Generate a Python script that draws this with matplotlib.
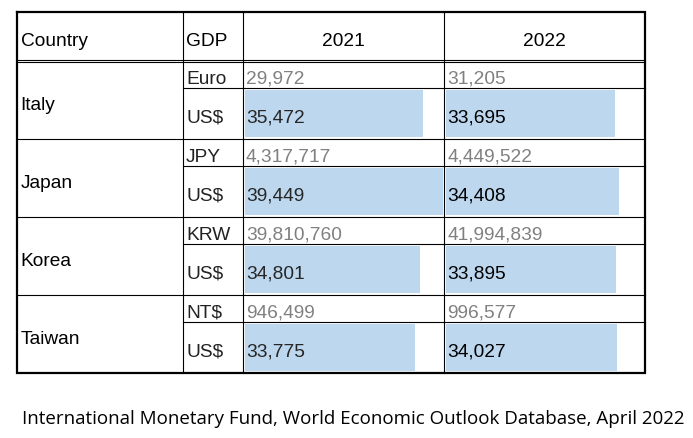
import matplotlib
matplotlib.use("Agg")
import matplotlib.pyplot as plt

# data (GDP per capita, IMF WEO April 2022)
countries = ["Italy", "Japan", "Korea", "Taiwan"]
local_units = ["Euro", "JPY", "KRW", "NT$"]
years = ["2021", "2022"]
local_2021 = [29972, 4317717, 39810760, 946499]
local_2022 = [31205, 4449522, 41994839, 996577]
usd_2021 = [35472, 39449, 34801, 33775]
usd_2022 = [33695, 34408, 33895, 34027]
source = "International Monetary Fund, World Economic Outlook Database, April 2022"

plt.rcParams["font.family"] = ["Liberation Sans", "DejaVu Sans"]

fig = plt.figure(figsize=(6.93, 4.39), dpi=100)
ax = fig.add_axes([0, 0, 1, 1])
ax.set_xlim(0, 693)
ax.set_ylim(439, 0)
ax.axis("off")

# layout (pixels)
col_x = [16.5, 183, 243, 444, 645]
top, head_bot = 12.5, 62
block_h, sub_h = 78, 27
bottom = head_bot + block_h * len(countries)
bar_full = 198
bar_color = "#BDD7EE"
fs = 13.8

thin = 0.8
thick = 1.6

# bars (data bars share one scale over both year columns)
vmax = max(usd_2021 + usd_2022)
for j, vals in enumerate([usd_2021, usd_2022]):
    widths = [v / vmax * bar_full for v in vals]
    ys = [head_bot + i * block_h + sub_h + (block_h - sub_h) / 2 for i in range(len(vals))]
    ax.barh(ys, widths, height=block_h - sub_h - 4, left=col_x[2 + j] + 2,
            color=bar_color, zorder=1)

# grid lines
for i in range(1, len(countries)):
    y = head_bot + i * block_h
    ax.plot([col_x[0], col_x[-1]], [y, y], color="black", lw=thin, zorder=3)
for i in range(len(countries)):
    y = head_bot + i * block_h + sub_h
    ax.plot([col_x[1], col_x[-1]], [y, y], color="black", lw=thin, zorder=3)
ax.plot([col_x[0], col_x[-1]], [head_bot - 1.2, head_bot - 1.2], color="black", lw=thin, zorder=3)
ax.plot([col_x[0], col_x[-1]], [head_bot + 1.3, head_bot + 1.3], color="black", lw=thin, zorder=3)
for x in col_x[1:-1]:
    ax.plot([x, x], [top, bottom], color="black", lw=thin, zorder=3)
ax.plot([col_x[0], col_x[-1], col_x[-1], col_x[0], col_x[0]],
        [top, top, bottom, bottom, top], color="black", lw=thick, zorder=4,
        solid_joinstyle="miter")

# header
hy = 45.5
ax.text(20.5, hy, "Country", fontsize=fs, va="baseline", ha="left")
ax.text(186, hy, "GDP", fontsize=fs, va="baseline", ha="left")
for j, yr in enumerate(years):
    ax.text((col_x[2 + j] + col_x[3 + j]) / 2, hy, yr, fontsize=fs, va="baseline", ha="center")

# body
for i, c in enumerate(countries):
    y0 = head_bot + i * block_h
    y_loc = y0 + 22
    y_usd = y0 + 61
    ax.text(20.5, y0 + 48, c, fontsize=fs, va="baseline", ha="left")
    ax.text(186, y_loc, local_units[i], fontsize=fs, va="baseline", ha="left", color="#222222")
    ax.text(186, y_usd, "US$", fontsize=fs, va="baseline", ha="left", color="#222222")
    ax.text(col_x[2] + 3, y_loc, f"{local_2021[i]:,}", fontsize=fs, va="baseline", color="#808080")
    ax.text(col_x[3] + 3, y_loc, f"{local_2022[i]:,}", fontsize=fs, va="baseline", color="#808080")
    ax.text(col_x[2] + 3, y_usd, f"{usd_2021[i]:,}", fontsize=fs, va="baseline", color="#262626", zorder=5)
    ax.text(col_x[3] + 3, y_usd, f"{usd_2022[i]:,}", fontsize=fs, va="baseline", color="black", zorder=5)

# source note, fitted to its width in the reference
t = ax.text(22, 424, source, fontsize=12, va="baseline", ha="left",
            family=["Open Sans", "DejaVu Sans"])
fig.canvas.draw()
w = t.get_window_extent().width
t.set_fontsize(12 * 660 / w)

fig.savefig("out.png", dpi=100)
